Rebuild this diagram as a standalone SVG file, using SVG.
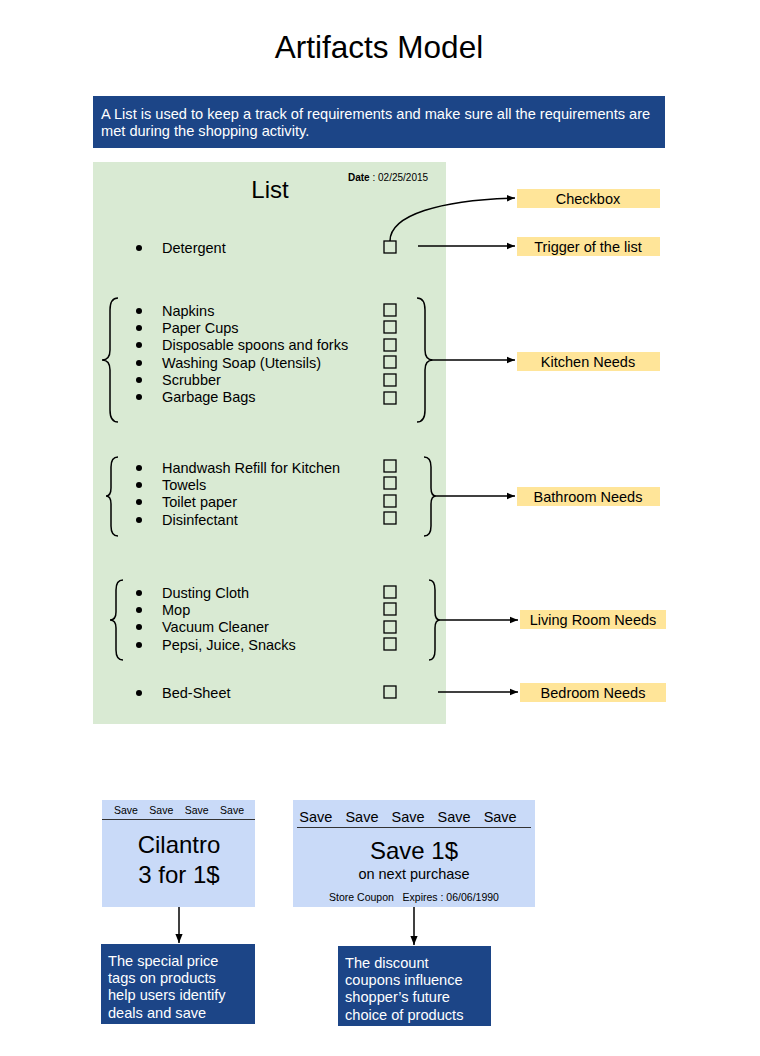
<svg xmlns="http://www.w3.org/2000/svg" width="760" height="1056" viewBox="0 0 760 1056">
<defs>
<style>
text{font-family:"Liberation Sans",Arial,sans-serif;fill:#000}
.item{font-size:14.5px}
.w{fill:#fff;font-size:14.6px}
.lbl{font-size:14.5px;text-anchor:middle}
.cb{fill:none;stroke:#000;stroke-width:1.3}
.br{fill:none;stroke:#000;stroke-width:1.5}
.con{fill:none;stroke:#000;stroke-width:1.5}
.yl{fill:#ffe599}
.db{fill:#1c4587}
.lb{fill:#c9daf8}
</style>
<marker id="ah" viewBox="0 0 10 10" refX="10" refY="5" markerWidth="8" markerHeight="8" orient="auto" markerUnits="userSpaceOnUse"><path d="M0,1 L10,5 L0,9 z" fill="#000"/></marker>
<marker id="ah2" viewBox="0 0 10 10" refX="10" refY="5" markerWidth="9" markerHeight="9" orient="auto" markerUnits="userSpaceOnUse"><path d="M0,1 L10,5 L0,9 z" fill="#000"/></marker>
</defs>
<rect width="760" height="1056" fill="#fff"/>

<g id="title"><text x="379" y="58" font-size="31.5" text-anchor="middle">Artifacts Model</text></g>

<g id="banner">
<rect x="93" y="96" width="572" height="52" class="db"/>
<text class="w" x="101" y="119">A List is used to keep a track of requirements and make sure all the requirements are</text>
<text class="w" x="101" y="136">met during the shopping activity.</text>
</g>

<g id="list">
<rect x="93" y="162" width="353" height="562" fill="#d9ead3"/>
<text x="270" y="198" font-size="24" text-anchor="middle">List</text>
<text x="348" y="181" font-size="10"><tspan font-weight="bold">Date</tspan> : 02/25/2015</text>

<g id="detergent">
<circle cx="139" cy="248" r="3"/><text class="item" x="162" y="253">Detergent</text>
<rect class="cb" x="384" y="241" width="12" height="12"/>
</g>

<g id="kitchen-items">
<circle cx="139" cy="311" r="3"/><text class="item" x="162" y="316">Napkins</text>
<circle cx="139" cy="328" r="3"/><text class="item" x="162" y="333">Paper Cups</text>
<circle cx="139" cy="345" r="3"/><text class="item" x="162" y="350">Disposable spoons and forks</text>
<circle cx="139" cy="363" r="3"/><text class="item" x="162" y="368">Washing Soap (Utensils)</text>
<circle cx="139" cy="380" r="3"/><text class="item" x="162" y="385">Scrubber</text>
<circle cx="139" cy="397" r="3"/><text class="item" x="162" y="402">Garbage Bags</text>
<rect class="cb" x="384" y="304" width="12" height="12"/>
<rect class="cb" x="384" y="321" width="12" height="12"/>
<rect class="cb" x="384" y="339" width="12" height="12"/>
<rect class="cb" x="384" y="356" width="12" height="12"/>
<rect class="cb" x="384" y="374" width="12" height="12"/>
<rect class="cb" x="384" y="392" width="12" height="12"/>
<path class="br" d="M118,298 Q110,298 110,310 L110,350 Q110,360 102,360 Q110,360 110,370 L110,410 Q110,422 118,422"/>
<path class="br" d="M417,298 Q425,298 425,310 L425,350 Q425,360 433,360 Q425,360 425,370 L425,410 Q425,422 417,422"/>
</g>

<g id="bathroom-items">
<circle cx="139" cy="468" r="3"/><text class="item" x="162" y="473">Handwash Refill for Kitchen</text>
<circle cx="139" cy="485" r="3"/><text class="item" x="162" y="490">Towels</text>
<circle cx="139" cy="502" r="3"/><text class="item" x="162" y="507">Toilet paper</text>
<circle cx="139" cy="520" r="3"/><text class="item" x="162" y="525">Disinfectant</text>
<rect class="cb" x="384" y="460" width="12" height="12"/>
<rect class="cb" x="384" y="477" width="12" height="12"/>
<rect class="cb" x="384" y="495" width="12" height="12"/>
<rect class="cb" x="384" y="512" width="12" height="12"/>
<path class="br" d="M118,457 Q111,457 111,467 L111,488 Q111,496 106,496 Q111,496 111,504 L111,526 Q111,536 118,536"/>
<path class="br" d="M424,457 Q431,457 431,467 L431,488 Q431,496 436,496 Q431,496 431,504 L431,526 Q431,536 424,536"/>
</g>

<g id="living-items">
<circle cx="139" cy="593" r="3"/><text class="item" x="162" y="598">Dusting Cloth</text>
<circle cx="139" cy="610" r="3"/><text class="item" x="162" y="615">Mop</text>
<circle cx="139" cy="627" r="3"/><text class="item" x="162" y="632">Vacuum Cleaner</text>
<circle cx="139" cy="645" r="3"/><text class="item" x="162" y="650">Pepsi, Juice, Snacks</text>
<rect class="cb" x="384" y="586" width="12" height="12"/>
<rect class="cb" x="384" y="603" width="12" height="12"/>
<rect class="cb" x="384" y="621" width="12" height="12"/>
<rect class="cb" x="384" y="638" width="12" height="12"/>
<path class="br" d="M123,580 Q116,580 116,590 L116,612 Q116,620 110,620 Q116,620 116,628 L116,650 Q116,660 123,660"/>
<path class="br" d="M429,580 Q435,580 435,590 L435,612 Q435,620 440,620 Q435,620 435,628 L435,650 Q435,660 429,660"/>
</g>

<g id="bedroom-items">
<circle cx="139" cy="693" r="3"/><text class="item" x="162" y="698">Bed-Sheet</text>
<rect class="cb" x="384" y="686" width="12" height="12"/>
</g>
</g>

<g id="label-checkbox"><rect class="yl" x="517" y="189" width="143" height="19"/><text class="lbl" x="588" y="204">Checkbox</text></g>
<g id="label-trigger"><rect class="yl" x="517" y="237" width="143" height="19"/><text class="lbl" x="588" y="252">Trigger of the list</text></g>
<g id="label-kitchen"><rect class="yl" x="517" y="352" width="143" height="19"/><text class="lbl" x="588" y="367">Kitchen Needs</text></g>
<g id="label-bathroom"><rect class="yl" x="517" y="487" width="143" height="19"/><text class="lbl" x="588" y="502">Bathroom Needs</text></g>
<g id="label-living"><rect class="yl" x="520" y="610" width="146" height="19"/><text class="lbl" x="593" y="625">Living Room Needs</text></g>
<g id="label-bedroom"><rect class="yl" x="520" y="683" width="146" height="19"/><text class="lbl" x="593" y="698">Bedroom Needs</text></g>

<g id="price-tag">
<rect class="lb" x="102" y="800" width="153" height="107"/>
<text x="179" y="814" font-size="10.5" text-anchor="middle" word-spacing="8.5">Save Save Save Save</text>
<line x1="102" y1="819.5" x2="255" y2="819.5" stroke="#333" stroke-width="1.2"/>
<text x="179" y="853" font-size="24" text-anchor="middle">Cilantro</text>
<text x="179" y="883" font-size="24" text-anchor="middle">3 for 1$</text>
</g>

<g id="coupon">
<rect class="lb" x="293" y="800" width="242" height="107"/>
<text x="408" y="822" font-size="14.5" text-anchor="middle" word-spacing="9">Save Save Save Save Save</text>
<line x1="297" y1="827.5" x2="531" y2="827.5" stroke="#333" stroke-width="1.2"/>
<text x="414" y="859" font-size="24" text-anchor="middle">Save 1$</text>
<text x="414" y="879" font-size="14.5" text-anchor="middle">on next purchase</text>
<text x="414" y="901" font-size="10.5" text-anchor="middle" xml:space="preserve">Store Coupon   Expires : 06/06/1990</text>
</g>

<g id="note-price">
<rect class="db" x="101" y="944" width="154" height="80"/>
<text class="w" x="108" y="966">The special price</text>
<text class="w" x="108" y="983">tags on products</text>
<text class="w" x="108" y="1000">help users identify</text>
<text class="w" x="108" y="1018">deals and save</text>
</g>

<g id="note-coupon">
<rect class="db" x="338" y="946" width="153" height="80"/>
<text class="w" x="345" y="968">The discount</text>
<text class="w" x="345" y="985">coupons influence</text>
<text class="w" x="345" y="1002">shopper’s future</text>
<text class="w" x="345" y="1020">choice of products</text>
</g>

<g id="connectors">
<path class="con" d="M390,241 C390,215 440,200 515,198" marker-end="url(#ah)"/>
<line class="con" x1="418" y1="246" x2="515" y2="246" marker-end="url(#ah)"/>
<line class="con" x1="433" y1="360" x2="515" y2="360" marker-end="url(#ah)"/>
<line class="con" x1="436" y1="496" x2="515" y2="496" marker-end="url(#ah)"/>
<line class="con" x1="440" y1="620" x2="518" y2="620" marker-end="url(#ah)"/>
<line class="con" x1="438" y1="692" x2="518" y2="692" marker-end="url(#ah)"/>
<line class="con" x1="179" y1="907" x2="179" y2="943" marker-end="url(#ah2)"/>
<line class="con" x1="414" y1="907" x2="414" y2="945" marker-end="url(#ah2)"/>
</g>
</svg>
